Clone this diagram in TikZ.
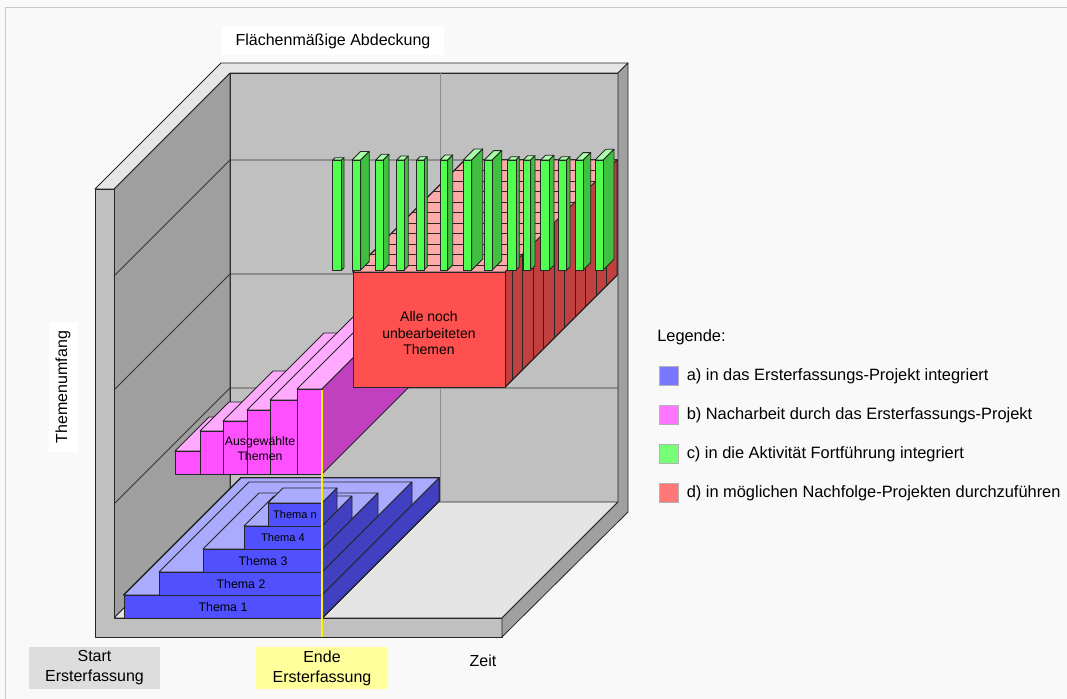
\documentclass[tikz,border=0pt]{standalone}
\usepackage{fontspec}
\setmainfont{Liberation Sans}
\definecolor{bg}{HTML}{F9F9F9}
\definecolor{frame}{HTML}{C8C8C8}
\definecolor{wallback}{HTML}{C0C0C0}
\definecolor{wallleft}{HTML}{9F9F9F}
\definecolor{wallrim}{HTML}{E6E6E6}
\definecolor{wallfront}{HTML}{C0C0C0}
\definecolor{wallright}{HTML}{A0A0A0}
\definecolor{floorgray}{HTML}{E4E4E4}
\definecolor{bluefront}{HTML}{5050FF}
\definecolor{bluetop}{HTML}{AAAAFF}
\definecolor{blueside}{HTML}{4040C0}
\definecolor{pinkfront}{HTML}{FF50FF}
\definecolor{pinktop}{HTML}{FFAAFF}
\definecolor{pinkside}{HTML}{C040C0}
\definecolor{redfront}{HTML}{FF5050}
\definecolor{redtop}{HTML}{FFAAAA}
\definecolor{redside}{HTML}{C04040}
\definecolor{greenfront}{HTML}{50FF50}
\definecolor{greentop}{HTML}{AAFFAA}
\definecolor{greenside}{HTML}{40C040}
\definecolor{legblue}{HTML}{7777FF}
\definecolor{legpink}{HTML}{FF77FF}
\definecolor{leggreen}{HTML}{77FF77}
\definecolor{legred}{HTML}{FF7777}
\definecolor{startgray}{HTML}{DDDDDD}
\definecolor{endeyellow}{HTML}{FFFF9C}
\newcommand{\quader}[6]{%
  \filldraw[kante,fill=#6top] (#1,#3) -- (#2,#3) -- ++(#5,-#5) -- ++({#1-#2},0) -- cycle;
  \filldraw[kante,fill=#6side] (#2,#3) -- ++(#5,-#5) -- ++(0,{#4-#3}) -- (#2,#4) -- cycle;
  \filldraw[kante,fill=#6front] (#1,#3) rectangle (#2,#4);}
\begin{document}
\begin{tikzpicture}[x=0.75pt,y=-0.75pt,
  kante/.style={draw=black!85,line width=0.6pt,line join=round},
  gitter/.style={draw=black!80,line width=0.6pt},
  schrift/.style={font=\fontsize{12}{15}\selectfont,inner sep=0pt,align=center},
  legbox/.style={draw=black!30,minimum size=14.25pt,inner sep=0pt},
  legtext/.style={schrift,font=\fontsize{12.3}{15}\selectfont,anchor=west}]
\useasboundingbox (0,0) rectangle (1067,699);
\fill[bg] (0,0) rectangle (1067,699);
\draw[frame] (5,699) -- (5,7) -- (1067,7);
\filldraw[kante,fill=wallback] (230,73) rectangle (618,502);
\filldraw[kante,fill=wallleft] (114,189) -- (230,73) -- (230,502) -- (114,618) -- cycle;
\filldraw[kante,fill=floorgray] (114,618) -- (230,502) -- (618,502) -- (502,618) -- cycle;
\filldraw[kante,fill=wallrim] (95,189) -- (221,63) -- (628,63) -- (618,73) -- (230,73) -- (114,189) -- cycle;
\filldraw[kante,fill=wallfront] (95,189) -- (114,189) -- (114,618) -- (502,618) -- (502,637) -- (95,637) -- cycle;
\filldraw[kante,fill=wallright] (618,73) -- (628,63) -- (628,512) -- (502,637) -- (502,618) -- (618,502) -- cycle;
\foreach \y in {160,274,388}
  \draw[gitter] (114,{\y+116}) -- (230,\y) -- (618,\y);
\draw[black!45,line width=0.6pt] (440,73) -- (440,502);
\foreach \xl/\xr/\t/\d in {175/200/451/34, 200/223/431/29, 223/247/421/50, 247/270/410/77, 270/297/400/120, 297/322/389/120}
  \quader{\xl}{\xr}{\t}{474}{\d}{pink}
\quader{353}{505}{272}{387}{112}{red}
\foreach \t in {7,17.5,28,38.5,49,59.5,70,80.5,91,101.5}
  \draw[kante] ({353+\t},{272-\t}) -- ({505+\t},{272-\t}) -- ++(0,115);
\foreach \xl/\xr/\s in {332.7/341.7/2.3, 352/360.7/8.6, 375.7/383.3/5.7, 396.7/404.3/4, 416.7/424/3.3, 440/447.7/5, 463.3/471.7/11, 484.3/492.3/9.4, 507.7/516/3.3, 523.3/530.7/4.3, 540.7/549.3/4.7, 558.3/566.7/3.3, 575.7/583.3/7.4, 595/603.3/10.7}
  \quader{\xl}{\xr}{160}{270}{\s}{green}
\foreach \xl/\t/\b/\d in {124/595/618/117, 159/572/595/90, 203/549/572/56, 244/526/549/30, 268/503/526/15}
  \quader{\xl}{322}{\t}{\b}{\d}{blue}
\draw[yellow,line width=2.2pt] (322,390) -- (322,637);
\foreach \n/\x/\y/\s in {1/223/607/9.3, 2/241/584/9.3, 3/263/561/9.3, 4/283/538/8.3, n/295/515/8.3}
  \node[schrift,font=\fontsize{\s}{\s}\selectfont] (thema\n) at (\x,\y) {Thema \n};
\node[schrift,font=\fontsize{9.2}{11.25}\selectfont] (auswahl) at (260,449) {Ausgewählte\\Themen};
\node[schrift,font=\fontsize{10.5}{12.4}\selectfont] (rest) at (429,333) {Alle noch\\unbearbeiteten\\Themen};
\node[schrift,fill=white,minimum width=166pt,minimum height=21.75pt] (titel) at (333,41) {Flächenmäßige Abdeckung};
\node[schrift,fill=white,rotate=90,minimum width=97.5pt,minimum height=21.75pt] (umfang) at (63,387) {Themenumfang};
\node[schrift,fill=startgray,minimum width=98.25pt,minimum height=31.5pt] (start) at (94.5,668) {Start\\Ersterfassung};
\node[schrift,fill=endeyellow,minimum width=99pt,minimum height=31.5pt] (ende) at (322,668) {Ende\\Ersterfassung};
\node[schrift] (zeit) at (483,661) {Zeit};
\node[legtext] (legende) at (657,337) {Legende:};
\foreach \i/\c/\txt in {0/legblue/{a) in das Ersterfassungs-Projekt integriert}, 1/legpink/{b) Nacharbeit durch das Ersterfassungs-Projekt}, 2/leggreen/{c) in die Aktivität Fortführung integriert}, 3/legred/{d) in möglichen Nachfolge-Projekten durchzuführen}}{
  \node[legbox,fill=\c] (box\i) at (669,{376+39*\i}) {};
  \node[legtext] (eintrag\i) at (686.5,{376+39*\i}) {\txt};
}
\end{tikzpicture}
\end{document}
